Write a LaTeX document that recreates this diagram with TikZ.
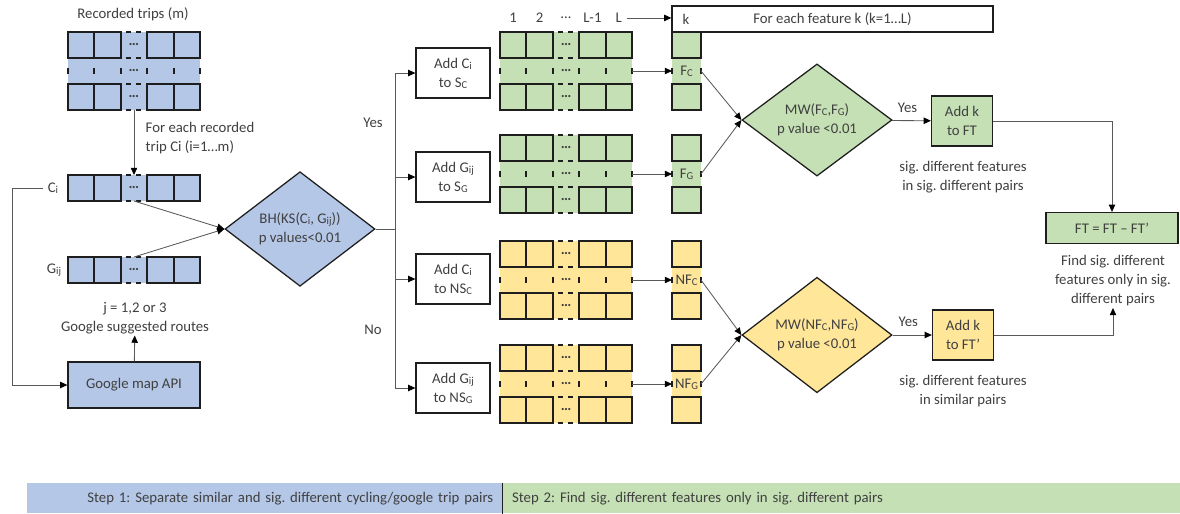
\documentclass[tikz,border=0pt]{standalone}
\usepackage{fontspec}
\setmainfont{Carlito}
\usepackage{tikz}
\usetikzlibrary{arrows.meta,positioning,shapes.geometric}

\definecolor{tripblue}{HTML}{B4C7E7}
\definecolor{featgreen}{HTML}{C5E0B4}
\definecolor{featyellow}{HTML}{FFE699}
\definecolor{edge}{HTML}{1E1E1E}
\definecolor{conn}{HTML}{595959}
\definecolor{txt}{HTML}{404040}

% small letter set low, as in C_i, F_C
\newcommand{\lsub}[1]{\raisebox{-0.15ex}{\fontsize{7.5}{8}\selectfont #1}}

% grid of trip/feature cells: name, left x, top y, cols, rows, cell width, fill
\newcommand{\cellgrid}[7]{%
  \foreach \gcol in {1,...,#4}{
    \foreach \grow in {1,...,#5}{
      \node[cell,fill=#7,minimum width=#6*0.025cm] (#1-\gcol-\grow)
        at ({#2+(\gcol-0.5)*#6},{#3+(\grow-0.5)*26}) {\ifnum\gcol=3 \textbf{\ldots}\fi};
    }
  }
  \foreach \gcol in {1,...,#4}{
    \foreach \grow in {1,...,#5}{
      \ifnum\gcol=3 \tikzset{hsty/.style={hgap}}\else\tikzset{hsty/.style={gridline}}\fi
      \ifnum\grow=2 \tikzset{vsty/.style={vgap}}\else\tikzset{vsty/.style={gridline}}\fi
      \draw[hsty] (#1-\gcol-\grow.north west) -- (#1-\gcol-\grow.north east);
      \draw[vsty] (#1-\gcol-\grow.north west) -- (#1-\gcol-\grow.south west);
      \ifnum\grow=#5 \draw[hsty] (#1-\gcol-\grow.south west) -- (#1-\gcol-\grow.south east);\fi
      \ifnum\gcol=#4 \draw[vsty] (#1-\gcol-\grow.north east) -- (#1-\gcol-\grow.south east);\fi
    }
  }
}

\begin{document}
\begin{tikzpicture}[
    x=0.025cm, y=-0.025cm,
    font=\fontsize{10.5}{13.5}\selectfont\frenchspacing, text=txt,
    cell/.style={inner sep=0pt,outer sep=0pt,minimum height=26*0.025cm},
    gridline/.style={draw=edge,line width=1.4pt,line cap=rect},
    hgap/.style={draw=edge,line width=1.4pt,dash pattern=on 0pt off 3.5pt on 4pt off 3.2pt on 4pt off 3.5pt},
    vgap/.style={draw=edge,line width=1.4pt,dash pattern=on 0pt off 7pt on 4.5pt off 7pt},
    box/.style={draw=edge,line width=0.9pt,align=center,inner sep=2pt,
        minimum width=74*0.025cm,minimum height=50*0.025cm},
    test/.style={diamond,draw=edge,line width=0.9pt,align=center,inner sep=0pt,
        minimum width=150*0.025cm,minimum height=106*0.025cm},
    arrow/.style={-{Triangle[length=1.8mm,width=1.6mm,color=black]},draw=conn,line width=0.6pt},
    line/.style={draw=conn,line width=0.6pt},
    note/.style={align=center,inner sep=1pt},
    bar/.style={inner ysep=0pt,inner xsep=6.5pt,minimum height=30*0.025cm,anchor=north west}
]
\useasboundingbox (0,0) rectangle (1180,514);

% step 1: trips and Google routes
\node (rectitle) at (133,14) {Recorded trips (m)};
\cellgrid{rec}{68}{32}{5}{3}{26.4}{tripblue}
\cellgrid{ci}{68}{175}{5}{1}{26.4}{tripblue}
\cellgrid{gij}{68}{257}{5}{1}{26.4}{tripblue}
\node[note,align=left,anchor=west] (each) at (144,138) {For each recorded\\trip Ci (i=1…m)};
\node (cilab) at (53,188) {C\lsub{i}};
\node (gijlab) at (54,270) {G\lsub{ij}};
\node[note] (routes) at (135,318) {j = 1,2 or 3\\Google suggested routes};
\node[box,fill=tripblue,minimum width=132*0.025cm,minimum height=46*0.025cm] (api)
    at (134,385) {Google map API};
\draw[arrow] (rec-3-3.south) -- (ci-3-1.north);
\draw[arrow] (cilab.west) -- ++(-30,0) |- (api.west);
\draw[arrow] (api) -- (routes);

\node[test,fill=tripblue] (bh) at (300,229) {BH(KS(C\lsub{i}, G\lsub{ij}))\\p values<0.01};
\draw[arrow] (ci-3-1.south) -- (bh.west);
\draw[arrow] (gij-3-1.north) -- (bh.west);

% split into similar / different pairs
\node[box] (sc) at (453,73) {Add C\lsub{i}\\to S\lsub{C}};
\node[box] (sg) at (453,177) {Add G\lsub{ij}\\to S\lsub{G}};
\node[box] (nsc) at (453,279) {Add C\lsub{i}\\to NS\lsub{C}};
\node[box] (nsg) at (453,388) {Add G\lsub{ij}\\to NS\lsub{G}};
\coordinate (bus) at (395,229);
\draw[line] (bh.east) -- (bus);
\draw[line] (bus |- sc) -- (bus |- nsg);
\foreach \b in {sc,sg,nsc,nsg}
    \draw[arrow] (bus |- \b) -- (\b);
\node (yes1) at (373,123) {Yes};
\node (no1) at (373,330) {No};

% step 2: feature matrices
\cellgrid{gc}{500}{32}{5}{3}{26.4}{featgreen}
\cellgrid{gg}{500}{135}{5}{3}{26.4}{featgreen}
\cellgrid{yc}{500}{241}{5}{3}{26.4}{featyellow}
\cellgrid{yg}{500}{345}{5}{3}{26.4}{featyellow}
\foreach \t [count=\i] in {1,2,\ldots,L-1,L}
    \node (col\i) at ([yshift=10pt]gc-\i-1.north) {\t};

\node[box,minimum width=321*0.025cm,minimum height=26*0.025cm] (kbox) at (832.5,19)
    {For each feature k (k=1…L)};
\node (klab) at (686,19) {k};
\draw[arrow] (col5.east) -- (col5.east -| kbox.west);

\cellgrid{fc}{672}{32}{1}{3}{29}{featgreen}
\cellgrid{fg}{672}{135}{1}{3}{29}{featgreen}
\cellgrid{nfc}{672}{241}{1}{3}{29}{featyellow}
\cellgrid{nfg}{672}{345}{1}{3}{29}{featyellow}
\node[inner sep=0pt] (fclab) at (fc-1-2) {F\lsub{C}};
\node[inner sep=0pt] (fglab) at (fg-1-2) {F\lsub{G}};
\node[inner sep=0pt] (nfclab) at (nfc-1-2) {NF\lsub{C}};
\node[inner sep=0pt] (nfglab) at (nfg-1-2) {NF\lsub{G}};
\foreach \s/\t in {gc/fc,gg/fg,yc/nfc,yg/nfg}
    \draw[arrow] (\s-5-2.east) -- (\t-1-2.west);

% tests per feature
\node[test,fill=featgreen] (mwg) at (817,120) {MW(F\lsub{C},F\lsub{G})\\p value <0.01};
\node[test,fill=featyellow] (mwy) at (817,335) {MW(NF\lsub{C},NF\lsub{G})\\p value <0.01};
\draw[arrow] (fc-1-2.east) -- (mwg.west);
\draw[arrow] (fg-1-2.east) -- (mwg.west);
\draw[arrow] (nfc-1-2.east) -- (mwy.west);
\draw[arrow] (nfg-1-2.east) -- (mwy.west);

\node[box,fill=featgreen,minimum width=61*0.025cm] (addft) at (962,121) {Add k\\to FT};
\node[box,fill=featyellow,minimum width=61*0.025cm] (addftp) at (963,335) {Add k\\to FT’};
\draw[arrow] (mwg) -- node[above=2pt,pos=0.4] (yes2) {Yes} (addft);
\draw[arrow] (mwy) -- node[above=2pt,pos=0.4] (yes3) {Yes} (addftp);
\node[note] (sigsig) at (963,177) {sig. different features\\in sig. different pairs};
\node[note] (sigsim) at (963,391) {sig. different features\\in similar pairs};

\node[box,fill=featgreen,minimum width=132*0.025cm,minimum height=31*0.025cm] (ft)
    at (1112,228) {FT = FT – FT’};
\node[note] (findlab) at (1113,281) {Find sig. different\\features only in sig.\\different pairs};
\draw[arrow] (addft.east) -| (ft.north);
\draw[arrow] (addftp.east) -| (findlab.south);

% step bar
\node[bar,fill=tripblue,text width=324.9pt,align=right] (step1) at (27,483)
    {Step 1: Separate similar and sig. different cycling/google trip pairs};
\node[bar,fill=featgreen,text width=469.2pt,align=left] (step2) at (step1.north east)
    {Step 2: Find sig. different features only in sig. different pairs};
\draw[edge,line width=1pt] (step1.north east) -- (step1.south east);
\end{tikzpicture}
\end{document}
